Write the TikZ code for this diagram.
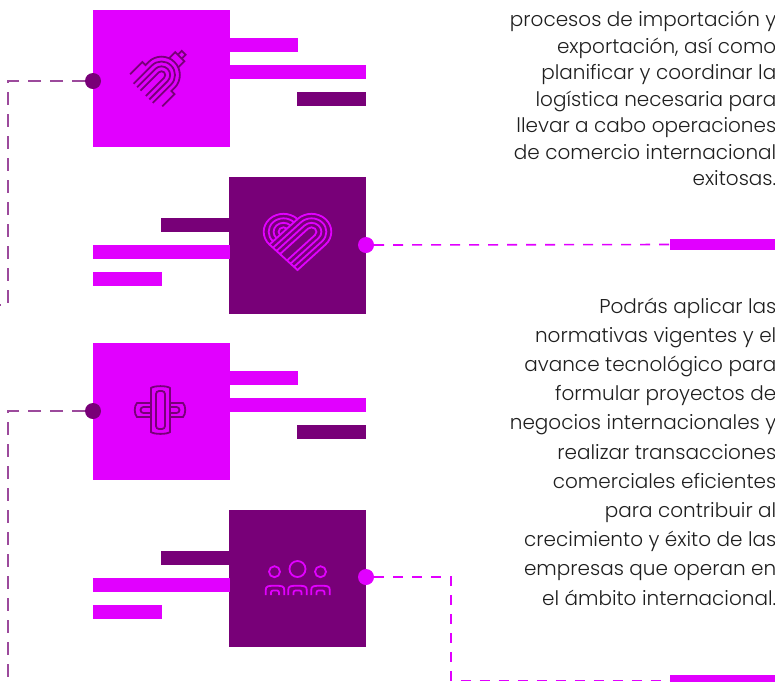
\documentclass[tikz,border=0pt]{standalone}
\usepackage{fontspec}
\setmainfont{Poppins Light}
\definecolor{mag}{HTML}{E100FF}
\definecolor{dpur}{HTML}{780078}
\definecolor{ldcol}{HTML}{9C4A9C}
\definecolor{txt}{HTML}{1F1F1F}
\begin{document}
\begin{tikzpicture}[x=1pt,y=-1pt,
  sqbox/.style={minimum size=137pt,inner sep=0pt,outer sep=0pt,draw=none},
  magbox/.style={sqbox,fill=mag},
  purbox/.style={sqbox,fill=dpur},
  dotnode/.style={circle,minimum size=16pt,inner sep=0pt,outer sep=0pt},
  rbar/.style={fill=mag,minimum width=105pt,minimum height=11pt,inner sep=0pt,outer sep=0pt},
  ldash/.style={draw=ldcol,line width=2pt,dash pattern=on 13pt off 9pt},
  rdash/.style={draw=mag,line width=1.6pt,dash pattern=on 10pt off 9pt},
  icon/.style={line width=1.8pt,line join=miter},
  bodytext/.style={anchor=base east,align=right,inner sep=0pt,text=txt}
]
\useasboundingbox (0,0) rectangle (775,681);
\clip (0,0) rectangle (775,681);

% boxes
\node[magbox] (b1) at (161.5,78.5) {};
\node[purbox] (b2) at (297.5,245.5) {};
\node[magbox] (b3) at (161.5,411.5) {};
\node[purbox] (b4) at (297.5,578) {};

% bars
\fill[mag] (230,38) rectangle (298,52);
\fill[mag] (230,65) rectangle (366,79);
\fill[dpur] (297,92) rectangle (366,106);
\fill[dpur] (161,218) rectangle (229,232);
\fill[mag] (93,245) rectangle (230,259);
\fill[mag] (93,272) rectangle (162,286);
\fill[mag] (230,371) rectangle (298,385);
\fill[mag] (230,398) rectangle (366,412);
\fill[dpur] (297,425) rectangle (366,439);
\fill[dpur] (161,551) rectangle (229,565);
\fill[mag] (93,578) rectangle (230,592);
\fill[mag] (93,605) rectangle (162,619);

\node[rbar] (r1) at (722.5,244.5) {};
\node[rbar] (r2) at (722.5,680.5) {};

% dots
\node[dotnode,fill=dpur] (d1) at (93,81) {};
\node[dotnode,fill=mag] (d2) at (366,245) {};
\node[dotnode,fill=dpur] (d3) at (93,411) {};
\node[dotnode,fill=mag] (d4) at (366,577) {};

% corner coordinates
\coordinate (c1a) at (8,81);
\coordinate (c1b) at (8,305);
\coordinate (c1c) at (-2,305);
\coordinate (c3a) at (8,411);
\coordinate (c3b) at (8,690);
\coordinate (c4a) at (451,577);
\coordinate (c4b) at (451,680.5);

% connectors
\draw[ldash] (d1.west) -- (c1a) -- (c1b) -- (c1c);
\draw[rdash] (d2.east) -- (r1.west);
\draw[ldash] (d3.west) -- (c3a) -- (c3b);
\draw[rdash] (d4.east) -- (c4a) -- (c4b) -- (r2.west);

% icon 1
\begin{scope}[shift={(161.5,75)},x=1pt,y=1pt,scale=1.08,rotate=-45,icon,draw=dpur]
  \foreach \r in {3.5,8,12.5}
    \draw (-\r,-24) -- (-\r,0) arc[start angle=180,end angle=0,radius=\r pt] -- (\r,-24);
  \draw (-21,-20) -- (-21,-4) -- (-17,-4) -- (-17,0) arc[start angle=180,end angle=0,radius=17pt] -- (17,-4) -- (21,-4) -- (21,-20);
  \draw (-6,16) -- (-6,24) -- (6,24) -- (6,16);
  \draw (-2.5,24) -- (-2.5,29) -- (2.5,29) -- (2.5,24);
\end{scope}

% icon 2 heart
\begin{scope}[shift={(297.5,270)},x=1pt,y=1pt,xscale=1.1,rotate=45,icon,draw=mag]
  \draw (0,0) -- (36,0) arc[start angle=-90,end angle=90,radius=18pt] arc[start angle=0,end angle=180,radius=18pt] -- cycle;
  \foreach \d in {4.5,9,13.5}
    \draw (0,\d) -- (36,\d) arc[start angle=-90,end angle=90,radius=18pt-\d pt] -- (0,36-\d);
  \draw (36,36) -- (0,36);
  \foreach \r in {13.5,9,4.5}
    \draw (18+\r,36) arc[start angle=0,end angle=180,radius=\r pt];
\end{scope}

% icon 3 cross
\begin{scope}[icon,draw=dpur]
  \draw (137,403) -- (183,403) .. controls (186,406) and (186,414) .. (183,417) -- (137,417) .. controls (134,414) and (134,406) .. (137,403) -- cycle;
  \draw[rounded corners=3pt] (140.5,407) rectangle (179.5,413);
  \filldraw[fill=mag] (151,388) .. controls (154,385.5) and (167,385.5) .. (170,388) -- (170,432) .. controls (167,434.5) and (154,434.5) .. (151,432) -- cycle;
  \draw[rounded corners=3pt] (156,391) rectangle (165,429);
\end{scope}

% icon 4 people
\begin{scope}[icon,draw=mag]
  \draw (274.5,571.7) circle[radius=5.5pt];
  \draw (297.5,569) circle[radius=8pt];
  \draw (320.5,571.7) circle[radius=5.5pt];
  \foreach \c in {275,297.5,320.5}{
    \draw (\c-9.25,595) -- (\c-9.25,590) .. controls (\c-9.25,586) and (\c-7,585.75) .. (\c,585.75) .. controls (\c+7,585.75) and (\c+9.25,586) .. (\c+9.25,590) -- (\c+9.25,595);
    \draw[rounded corners=2pt] (\c-4,595) -- (\c-4,590.5) -- (\c+4,590.5) -- (\c+4,595);
  }
\end{scope}

% texts
\node[bodytext,font=\fontsize{20}{26.5}\selectfont] (t1) at (776.5,185.7) {procesos de importación y\\exportación, así como\\planificar y coordinar la\\logística necesaria para\\llevar a cabo operaciones\\de comercio internacional\\exitosas.};
\node[bodytext,font=\fontsize{20}{29.2}\selectfont] (t2) at (776.5,605) {Podrás aplicar las\\normativas vigentes y el\\avance tecnológico para\\formular proyectos de\\negocios internacionales y\\realizar transacciones\\comerciales eficientes\\para contribuir al\\crecimiento y éxito de las\\empresas que operan en\\el ámbito internacional.};
\end{tikzpicture}
\end{document}
